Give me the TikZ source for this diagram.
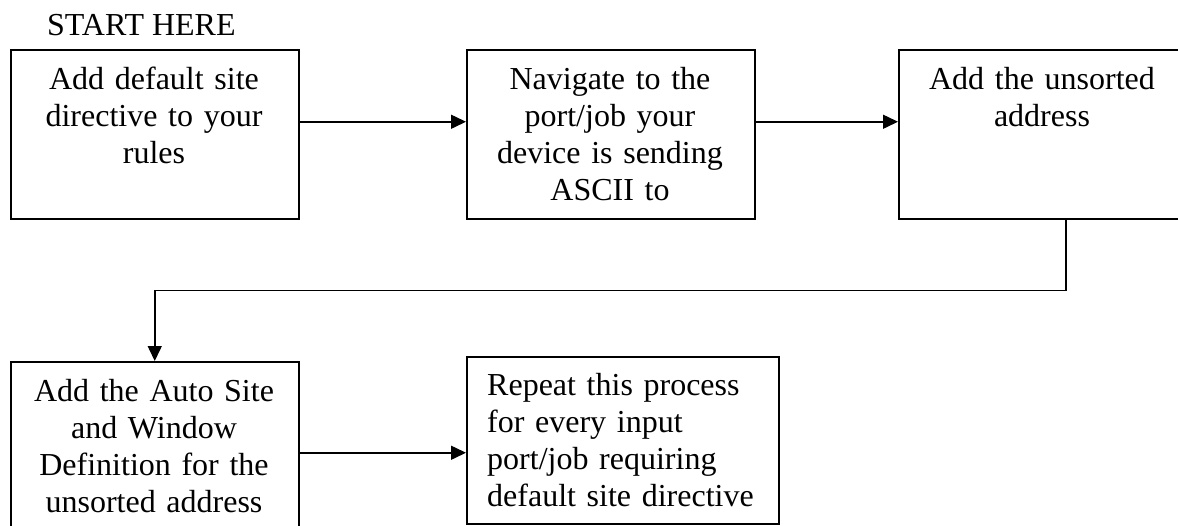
\documentclass[tikz,border=0pt]{standalone}
\usepackage{fontspec}
\setmainfont{Liberation Serif}
\usetikzlibrary{arrows.meta}
\tikzset{
  boxnode/.style={draw=black, line width=1.5pt, minimum width=288pt, minimum height=169pt, inner sep=0pt, anchor=north west},
  txt/.style={inner sep=0pt, font=\fontsize{32pt}{37pt}\selectfont, text width=280pt},
  ctxt/.style={txt, align=center, anchor=base},
  ltxt/.style={txt, align=left, anchor=base west},
  conn/.style={line width=1.5pt, -{Triangle[length=15pt,width=14pt]}}
}
\begin{document}
\begin{tikzpicture}[x=1pt,y=-1pt]
\useasboundingbox (0,0) rectangle (1178,525);
\clip (0,0) rectangle (1178,525);
\node[inner sep=0pt, anchor=base west, font=\fontsize{32pt}{37pt}\selectfont] (start) at (47,35) {START HERE};
\node[boxnode] (b1) at (10,49) {};
\node[boxnode] (b2) at (466,49) {};
\node[boxnode] (b3) at (898,49) {};
\node[boxnode] (b4) at (10,361) {};
\node[boxnode, minimum width=312pt, minimum height=167pt] (b5) at (466,356) {};
\node[ctxt] (t1) at (154,89) {Add default site\\directive to your\\rules};
\node[ctxt] (t2) at (610,89) {Navigate to the\\port/job your\\device is sending\\ASCII to};
\node[ctxt] (t3) at (1042,89) {Add the unsorted\\address};
\node[ctxt] (t4) at (154,401) {Add the Auto Site\\and Window\\Definition for the\\unsorted address};
\node[ltxt] (t5) at (487,395) {Repeat this process\\for every input\\port/job requiring\\default site directive};
\draw[conn] ([yshift=12.5pt]b1.east) -- ([yshift=12.5pt]b2.west);
\draw[conn] ([yshift=12.5pt]b2.east) -- ([yshift=12.5pt]b3.west);
\draw[conn] ([xshift=23pt]b3.south) -- ++(0,71) -| (b4.north);
\draw[conn] ([yshift=-6.5pt]b4.east) -- ([yshift=-12.5pt]b5.west);
\end{tikzpicture}
\end{document}
